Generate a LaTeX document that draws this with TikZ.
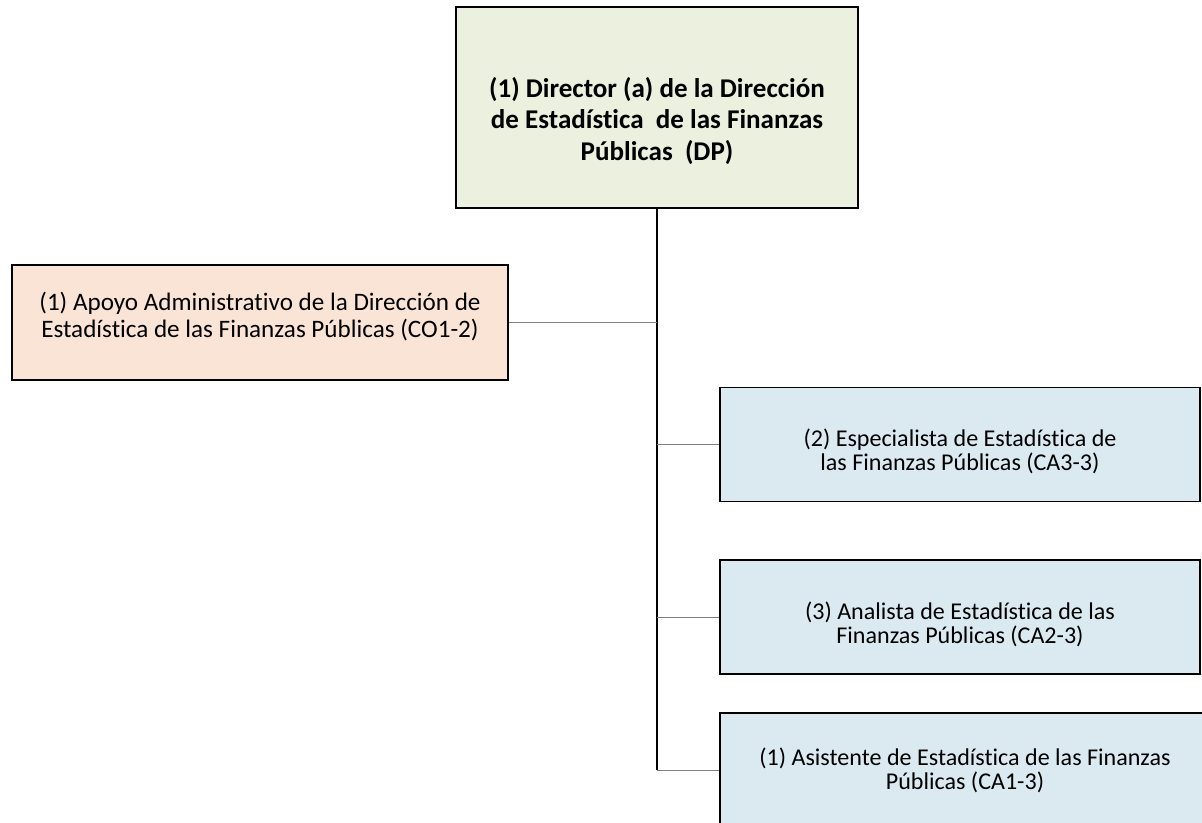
\documentclass[tikz,border=0pt]{standalone}
\usepackage{fontspec}
\setmainfont{Carlito}[Ligatures=NoCommon]
\usetikzlibrary{positioning,calc}
\definecolor{cDir}  {RGB}{235,240,223}
\definecolor{cApoyo}{RGB}{250,228,214}
\definecolor{cStaff}{RGB}{219,234,241}
\definecolor{cLink} {RGB}{128,128,128}
\lineskiplimit=-20pt
% pushes a box text down (top padding) or up (bottom padding)
\newcommand{\padtop}[1]{\rule{0pt}{#1}}
\newcommand{\padbot}[1]{\rule[-#1]{0pt}{0pt}}
\tikzset{
  box/.style      = {draw=black, line width=1.1pt, align=center, inner sep=2pt},
  dirbox/.style   = {box, fill=cDir, minimum width=8.04cm, minimum height=4.02cm,
                     font=\fontsize{15.4}{17.9}\selectfont\bfseries},
  apoyobox/.style = {box, fill=cApoyo, minimum width=9.92cm, minimum height=2.3cm,
                     font=\fontsize{14.3}{15.4}\selectfont},
  staffbox/.style = {box, fill=cStaff, minimum width=9.6cm, minimum height=2.28cm,
                     font=\fontsize{13.7}{13.6}\selectfont},
  trunk/.style    = {black, line width=0.8pt},
  link/.style     = {cLink, line width=1pt},
}

\begin{document}
\begin{tikzpicture}
  \useasboundingbox (0,0) rectangle (24.04,-16.44);

  %% ---------------- direction ----------------------------------------
  \node[dirbox] (dir) at (13.14,-2.15)
    {\padtop{0.94cm}(1) Director (a) de la Dirección\\
     de Estadística \ de las Finanzas\\Públicas \ (DP)};

  %% ---------------- support staff -----------------------------------
  \node[apoyobox] (apoyo) at (5.2,-6.45)
    {(1) Apoyo Administrativo de la Dirección de\\
     Estadística de las Finanzas Públicas (CO1-2)\padbot{0.3cm}};

  %% ---------------- technical staff ---------------------------------
  \node[staffbox] (espec) at (19.2,-8.89)
    {\padtop{0.62cm}(2) Especialista de Estadística de\\
     las Finanzas Públicas (CA3-3)};
  \node[staffbox] (anal) [below=1.14cm of espec]
    {\padtop{0.62cm}(3) Analista de Estadística de las\\
     Finanzas Públicas (CA2-3)};
  \node[staffbox, minimum width=9.8cm, xshift=0.1cm] (asist) [below=0.74cm of anal]
    {(1) Asistente de Estadística de las Finanzas\\Públicas (CA1-3)};

  %% ---------------- connectors --------------------------------------
  \draw[trunk] (dir.south) -- (dir.south |- asist.west);
  \draw[link] (dir.south |- apoyo.east) -- (apoyo.east);
  \foreach \n in {espec,anal,asist}
    \draw[link] (dir.south |- \n.west) -- (\n.west);
\end{tikzpicture}
\end{document}
